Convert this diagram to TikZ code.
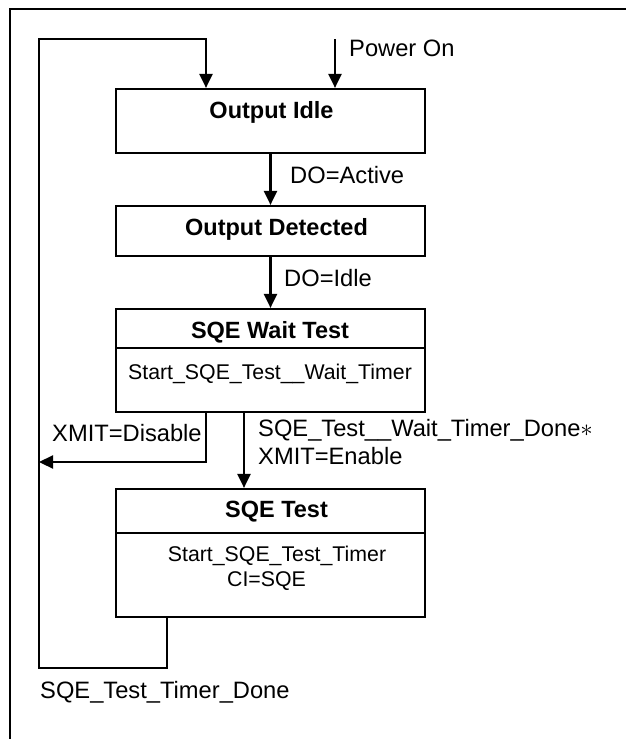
\documentclass[tikz,border=0pt]{standalone}
\usepackage{fontspec}
\setmainfont{Liberation Sans}
\usetikzlibrary{arrows.meta}
\begin{document}
\begin{tikzpicture}[x=1pt,y=-1pt,
  box/.style={draw, line width=2.2pt, rectangle, minimum width=309pt, inner sep=0pt},
  divline/.style={line width=2pt},
  arr/.style={line width=2.2pt, -{Triangle[length=14pt,width=13pt]}},
  lineonly/.style={line width=2.2pt},
  frameline/.style={line width=2.2pt},
  ttl/.style={anchor=base, inner sep=0pt, font=\bfseries\fontsize{23.5}{28}\selectfont},
  lbl/.style={anchor=base west, inner sep=0pt, font=\fontsize{23.7}{28}\selectfont},
  bdy/.style={anchor=base, inner sep=0pt, font=\fontsize{21.3}{25}\selectfont}]
\useasboundingbox (0,0) rectangle (626,739);
% outer frame (top and left sides)
\draw[frameline] (10,739) -- (10,9) -- (626,9);

% state boxes
\node[box, minimum height=64pt] (idle) at (270.5,121) {};
\node[box, minimum height=50pt] (det) at (270.5,231) {};
\node[box, minimum height=103pt] (wait) at (270.5,360.5) {};
\node[box, minimum height=128pt] (test) at (270.5,553) {};
\draw[divline] (117,348) -- (424,348);
\draw[divline] (117,532.5) -- (424,532.5);

% texts in boxes
\node[ttl] (idlet) at (271.5,118) {Output Idle};
\node[ttl] (dett) at (276.5,235) {Output Detected};
\node[ttl] (waitt) at (270,338) {SQE Wait Test};
\node[bdy] (waitb) at (270,379) {Start\_SQE\_Test\_\_Wait\_Timer};
\node[ttl] (testt) at (276.5,517.5) {SQE Test};
\node[bdy] (testb1) at (277,561) {Start\_SQE\_Test\_Timer};
\node[bdy] (testb2) at (266.5,586) {CI=SQE};

% connectors
\coordinate (pon) at (335,39);
\draw[arr] (pon) -- (pon |- idle.north);
\draw[arr] (idle.south) -- (det.north);
\draw[arr] (det.south) -- (wait.north);
\coordinate (dis) at (206,462);
\coordinate (ret) at (39,462);
\draw[arr] (wait.south -| dis) -- (dis) -- (ret);
\coordinate (en) at (244,0);
\draw[arr] (wait.south -| en) -- (test.north -| en);
\coordinate (lx) at (167,668);
\coordinate (lbl) at (39,668);
\coordinate (ltl) at (39,39);
\coordinate (lt) at (206,39);
\draw[arr] (test.south -| lx) -- (lx) -- (lbl) -- (ltl) -- (lt) -- (lt |- idle.north);

% connector labels
\node[lbl] (lpon) at (349,56) {Power On};
\node[lbl] (lact) at (290,183.5) {DO=Active};
\node[lbl] (lidle) at (284,286.7) {DO=Idle};
\node[lbl] (ldis) at (52,441) {XMIT=Disable};
\node[lbl] (ldone) at (258,436.5) {SQE\_Test\_\_Wait\_Timer\_Done$\ast$};
\node[lbl] (lenab) at (258,464) {XMIT=Enable};
\node[lbl] (ltd) at (40,698) {SQE\_Test\_Timer\_Done};
\end{tikzpicture}
\end{document}
